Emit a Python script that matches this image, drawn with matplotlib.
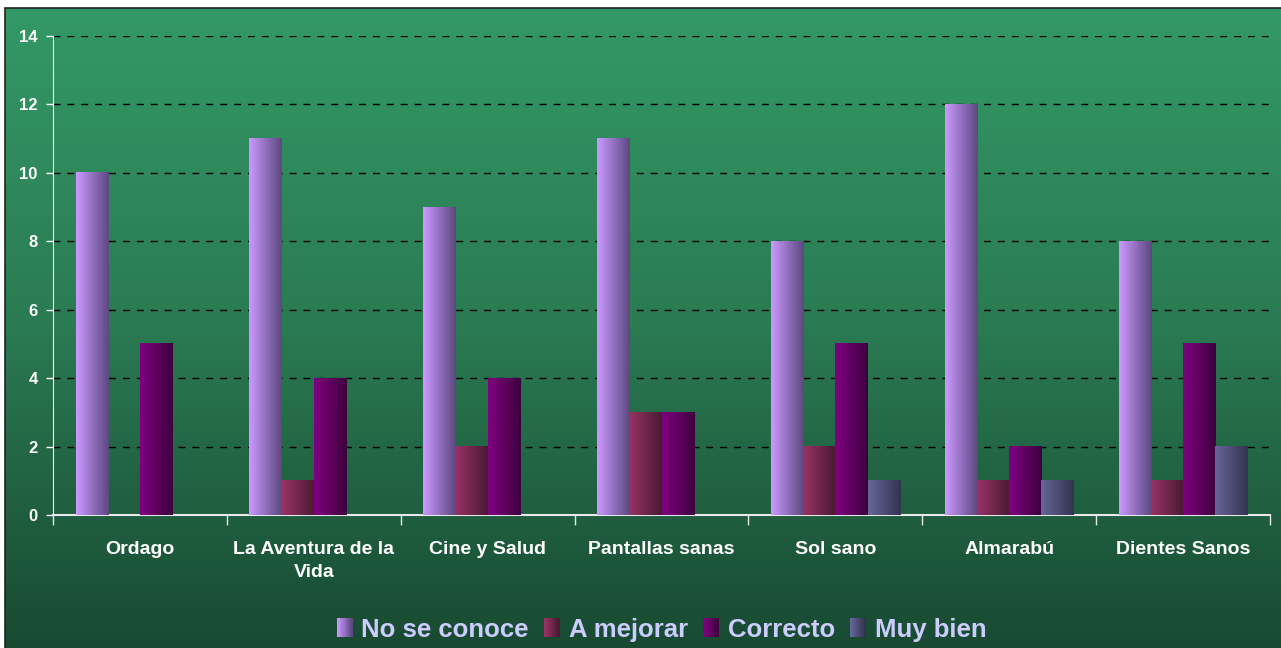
import matplotlib.pyplot as plt
import numpy as np
from matplotlib.colors import LinearSegmentedColormap
from matplotlib.legend_handler import HandlerBase
from matplotlib.patches import Patch, Rectangle

plt.rcParams['font.family'] = ['Liberation Sans', 'DejaVu Sans']

categories = ["Ordago", "La Aventura de la\nVida", "Cine y Salud", "Pantallas sanas",
              "Sol sano", "Almarabú", "Dientes Sanos"]
series_names = ["No se conoce", "A mejorar", "Correcto", "Muy bien"]
no_se_conoce = [10, 11, 9, 11, 8, 12, 8]
a_mejorar = [0, 1, 2, 3, 2, 1, 1]
correcto = [5, 4, 4, 3, 5, 2, 5]
muy_bien = [0, 0, 0, 0, 1, 1, 2]
yticks = [0, 2, 4, 6, 8, 10, 12, 14]

series = [no_se_conoce, a_mejorar, correcto, muy_bien]
light = ["#cc99ff", "#993366", "#800080", "#666699"]
dark = ["#5c4880", "#4a1a33", "#3d003d", "#333350"]


class GradientSquare(HandlerBase):
    # legend box drawn as thin strips going from light to dark
    def create_artists(self, legend, orig_handle, xdescent, ydescent,
                       width, height, fontsize, trans):
        cmap = orig_handle.cmap
        n = 10
        arts = []
        for k in range(n):
            r = Rectangle((-xdescent + width * k / n, -ydescent), width / n + 0.3, height,
                          facecolor=cmap(k / (n - 1)), edgecolor="none", transform=trans)
            arts.append(r)
        return arts


fig = plt.figure(figsize=(12.81, 6.48), dpi=100, facecolor="white")

# green gradient panel behind everything
bg = fig.add_axes([5 / 1281, 0, 1 - 5 / 1281, 1 - 8 / 648])
bg_grad = np.linspace(0, 1, 256).reshape(-1, 1)
bg_cmap = LinearSegmentedColormap.from_list("bg", ["#339966", "#2a7a52", "#184a32"])
bg.imshow(bg_grad, cmap=bg_cmap, aspect="auto", extent=[0, 1, 0, 1], origin="upper")
bg.set_xlim(0, 1)
bg.set_ylim(0, 1)
bg.axis("off")
fig.patches.append(Rectangle((5 / 1281, -0.01), 1.01, 1 - 8 / 648 + 0.01,
                             transform=fig.transFigure, fill=False,
                             edgecolor="#222222", linewidth=1.2, zorder=10))

ax = fig.add_axes([53 / 1281, 1 - 515 / 648, (1270 - 53) / 1281, (515 - 36) / 648])
ax.set_facecolor("none")

n = len(categories)
x = np.arange(n)
width = 0.185
offsets = (np.arange(4) - 1.5) * width
grad = np.linspace(0, 1, 128).reshape(1, -1)

cmaps = []
for i, vals in enumerate(series):
    cmap = LinearSegmentedColormap.from_list(f"s{i}", [light[i], dark[i]])
    cmaps.append(cmap)
    for xi, v in zip(x, vals):
        if v <= 0:
            continue
        x0 = xi + offsets[i] - width / 2
        ax.imshow(grad, cmap=cmap, aspect="auto", extent=[x0, x0 + width, 0, v],
                  zorder=3, interpolation="bilinear")

ax.set_xlim(-0.5, n - 0.5)
ax.set_ylim(0, 14)
ax.set_yticks(yticks)
ax.yaxis.grid(True, color="black", linestyle=(0, (5, 5)), linewidth=1)
ax.set_axisbelow(True)

ax.set_xticks(np.arange(n + 1) - 0.5)
ax.set_xticklabels([])
ax.set_xticks(x, minor=True)
ax.set_xticklabels(categories, minor=True, fontsize=14, fontweight="bold",
                   color="white", linespacing=1.45, va="top")
ax.tick_params(axis="x", which="minor", length=0, pad=19)
ax.tick_params(axis="x", which="major", length=7, color="#e8e8e8", width=1)
ax.tick_params(axis="y", length=5, color="white", width=1, pad=6,
               labelsize=12, labelcolor="white")
for lab in ax.get_yticklabels():
    lab.set_fontweight("bold")

for s in ["top", "right"]:
    ax.spines[s].set_visible(False)
ax.spines["left"].set_color("white")
ax.spines["bottom"].set_color("#e8e8e8")
ax.spines["bottom"].set_linewidth(1.5)

handles = []
for i in range(4):
    h = Patch(facecolor=light[i], edgecolor="none")
    h.cmap = cmaps[i]
    handles.append(h)
leg = fig.legend(handles, series_names, loc="center", bbox_to_anchor=(0.5164, 0.028),
                 ncol=4, frameon=False, handlelength=0.6, handleheight=0.75,
                 handletextpad=0.35, columnspacing=0.6,
                 handler_map={Patch: GradientSquare()},
                 prop={"size": 18.5, "weight": "bold"})
for t in leg.get_texts():
    t.set_color("#ccccff")

fig.savefig("out.png", dpi=100, facecolor="white")
